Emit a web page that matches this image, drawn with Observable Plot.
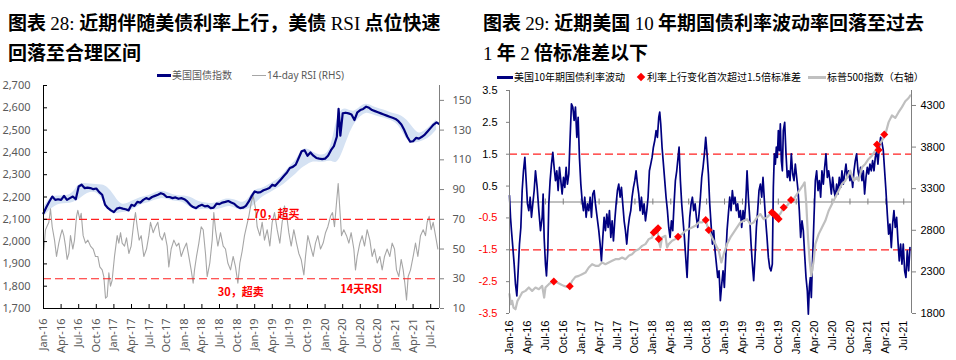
<!DOCTYPE html>
<html><head><meta charset="utf-8">
<script src="https://cdn.jsdelivr.net/npm/d3@7"></script>
<script src="https://cdn.jsdelivr.net/npm/@observablehq/plot@0.6"></script>
<style>
body{margin:0;background:#fff;}
#wrap{position:relative;width:956px;height:360px;overflow:hidden;background:#fff}
.title{position:absolute;top:8px;font-family:"Noto Sans CJK SC",sans-serif;font-weight:700;font-size:19px;line-height:28px;color:#000;white-space:nowrap;letter-spacing:0}
.title .n{font-family:"Liberation Serif",serif;font-weight:400}
.chart{position:absolute;top:66px;width:478px;height:294px}
.lg{position:absolute;white-space:nowrap;line-height:14px;height:14px}
.sw{position:absolute}
</style></head>
<body><div id="wrap">
<div class="title" style="left:8px">图表 <span class="n">28:&nbsp;</span>近期伴随美债利率上行，美债 <span class="n">RSI</span> 点位快速<br>回落至合理区间</div>
<div class="title" style="left:483px">图表 <span class="n">29:&nbsp;</span>近期美国 <span class="n">10</span> 年期国债利率波动率回落至过去<br><span class="n">1</span> 年 <span class="n">2</span> 倍标准差以下</div>
<div id="c1" class="chart" style="left:0px"></div>
<div id="c2" class="chart" style="left:478px"></div>
<div id="legends"></div>
</div>
<script>
// ---------- shared ----------
const xLabels = ["Jan-16","Apr-16","Jul-16","Oct-16","Jan-17","Apr-17","Jul-17","Oct-17","Jan-18","Apr-18","Jul-18","Oct-18","Jan-19","Apr-19","Jul-19","Oct-19","Jan-20","Apr-20","Jul-20","Oct-20","Jan-21","Apr-21","Jul-21"];
const xTicks = xLabels.map((_, i) => i * 3); // months since Jan-2016

// ---------- chart 28 data (months since Jan-2016) ----------
const idxMonths = [0,0.5,1,1.5,2,2.5,3,3.5,4,4.5,5,5.5,6,6.5,7,7.5,8,8.5,9,9.5,10,10.5,11,11.5,12,12.5,13,13.5,14,14.5,15,15.5,16,16.5,17,17.5,18,18.5,19,19.5,20,20.5,21,21.5,22,22.5,23,23.5,24,24.5,25,25.5,26,26.5,27,27.5,28,28.5,29,29.5,30,30.5,31,31.5,32,32.5,33,33.5,34,34.5,35,35.5,36,36.5,37,37.5,38,38.5,39,39.5,40,40.5,41,41.5,42,42.5,43,43.5,44,44.5,45,45.5,46,46.5,47,47.5,48,48.5,49,49.5,50,50.3,50.6,51,51.5,52,52.5,53,53.5,54,54.5,55,55.5,56,56.5,57,57.5,58,58.5,59,59.5,60,60.5,61,61.5,62,62.5,63,63.5,64,64.5,65,65.5,66,66.5,67,67.4];
const idxValues = [2127,2155,2180,2202,2187,2190,2187,2205,2187,2195,2202,2190,2247,2255,2240,2242,2240,2235,2238,2222,2210,2165,2150,2140,2132,2148,2152,2148,2145,2140,2165,2160,2178,2175,2187,2195,2190,2200,2205,2210,2217,2212,2200,2200,2195,2198,2192,2195,2190,2180,2165,2155,2150,2160,2165,2158,2160,2150,2152,2170,2168,2175,2178,2182,2175,2170,2157,2150,2152,2160,2180,2205,2225,2220,2222,2230,2235,2240,2255,2250,2265,2280,2295,2310,2330,2335,2345,2375,2405,2410,2385,2400,2385,2375,2372,2370,2372,2385,2410,2428,2470,2595,2475,2575,2578,2575,2570,2545,2580,2590,2595,2605,2600,2590,2585,2580,2575,2570,2565,2560,2555,2550,2540,2525,2500,2470,2448,2450,2465,2462,2470,2480,2495,2510,2525,2535,2528];
const bandMonths = d3.range(0, 68);
const bandLow  = [2110,2140,2160,2170,2170,2175,2185,2210,2222,2222,2195,2140,2120,2130,2130,2140,2155,2170,2175,2185,2195,2190,2182,2180,2175,2152,2140,2145,2145,2140,2145,2155,2160,2145,2140,2145,2165,2195,2210,2225,2240,2255,2280,2300,2330,2345,2360,2355,2355,2365,2345,2400,2475,2530,2560,2580,2570,2560,2555,2545,2535,2505,2450,2440,2445,2455,2470,2500];
const bandHigh = [2150,2195,2205,2205,2205,2215,2260,2262,2258,2255,2255,2245,2210,2170,2165,2180,2192,2200,2205,2218,2228,2222,2210,2205,2205,2200,2185,2175,2172,2170,2180,2192,2190,2185,2170,2192,2235,2235,2248,2265,2278,2305,2340,2358,2415,2418,2400,2388,2388,2412,2560,2600,2590,2580,2605,2620,2608,2598,2590,2580,2572,2565,2545,2510,2480,2495,2520,2545];
const rsiMonths = [0.06,0.34,0.91,1.19,1.48,1.88,2.22,2.61,2.9,3.18,3.47,3.75,4.03,4.32,4.6,5.0,5.28,5.63,5.85,6.19,6.42,6.76,7.16,7.56,8.01,8.47,8.86,9.26,9.6,10.0,10.28,10.57,10.85,11.14,11.42,11.7,12.1,12.56,12.84,13.13,13.41,13.81,14.15,14.55,14.94,15.4,15.68,15.97,16.31,16.65,17.1,17.56,17.95,18.24,18.69,19.09,19.49,19.83,20.23,20.63,21.08,21.36,21.76,22.22,22.67,23.07,23.47,23.92,24.38,24.77,25.17,25.51,25.74,26.08,26.48,26.88,27.22,27.61,27.9,28.35,28.75,29.03,29.32,29.72,30.17,30.63,31.02,31.42,31.88,32.33,32.73,33.13,33.47,33.86,34.26,34.6,35.0,35.4,35.74,36.14,36.42,36.88,37.27,37.67,38.13,38.58,38.98,39.38,39.83,40.28,40.68,41.08,41.53,41.82,42.22,42.67,43.13,43.52,43.92,44.38,44.66,45.06,45.51,45.97,46.36,46.76,47.22,47.67,48.07,48.47,48.92,49.26,49.6,49.94,50.23,50.51,50.8,51.19,51.65,52.05,52.44,52.9,53.18,53.47,53.92,54.32,54.72,55.17,55.63,56.02,56.42,56.88,57.33,57.73,58.13,58.58,59.03,59.43,59.83,60.17,60.57,60.97,61.31,61.59,61.88,62.16,62.56,63.01,63.41,63.81,64.26,64.72,65.11,65.4,65.74,66.08,66.42,66.82,67.22];
const rsiValues = [49.6,63,68,77,65,56,45,54,59,63,59,52,43,47,59,50,56,72,76,70,74,59,54,56,52,50,45,45,38,36,31.5,17,18,34,25,29,45,59,54,61,54,52,57.5,47,52,68,74.5,65,56,59,45,50,59,68,61,65,68,59,56,61,52,38,50,56,52,54,45,50,54,45,36,27,36,45,54,65,63,47,31.5,40.6,56,74.5,63,52,61,52,50,40.6,36,45,38,27,40.6,48.5,59,65,72,81,86,77,65,59,68,56,63,52,68,74.5,63,54,68,79,70,61,52,63,54,47,43,32.6,45,59,52,45,54,59,50,54,61,65,72,74.5,65,81,94,77,59,63,59,54,61,50,36,45,54,59,52,63,56,45,50,40.6,45,36,45,50,45,54,50,36,31.5,43,36,27,15.7,31.5,36,45,54,45,59,63,59,68,72,63,68,59,50];
const rsiLevels = [70, 30];
const leftTicks = [1700,1800,1900,2000,2100,2200,2300,2400,2500,2600,2700];
const rsiTicks = [10,30,50,70,90,110,130,150];
const noteLabels = ["70，超买","30，超卖","14天RSI"];
const noteMonths = [35.8, 29.7, 50.6];
const noteRsi = [73.2, 20.8, 22.8];

// ---------- chart 29 data ----------
const volMonths = [0,0.17,0.33,0.56,0.78,1,1.23,1.45,1.67,1.9,2.12,2.34,2.57,2.79,3.01,3.23,3.46,3.68,3.9,4.13,4.35,4.63,4.91,5.19,5.47,5.63,5.8,6.02,6.19,6.41,6.58,6.8,7.03,7.25,7.47,7.7,7.92,8.14,8.37,8.59,8.81,9.04,9.26,9.48,9.7,9.93,10.15,10.37,10.6,10.82,11.04,11.27,11.49,11.71,11.94,12.16,12.38,12.6,12.83,13.05,13.27,13.5,13.72,13.94,14.17,14.39,14.67,14.95,15.17,15.39,15.62,15.84,16.06,16.29,16.51,16.73,16.96,17.18,17.4,17.62,17.85,18.07,18.29,18.52,18.74,18.96,19.19,19.41,19.63,19.86,20.08,20.3,20.52,20.75,20.97,21.19,21.42,21.64,21.86,22.09,22.31,22.53,22.76,22.98,23.2,23.42,23.65,23.87,24.09,24.32,24.54,24.76,24.99,25.15,25.32,25.54,25.77,25.99,26.21,26.44,26.66,26.88,27.11,27.33,27.55,27.77,28,28.22,28.39,28.61,28.83,29.06,29.28,29.5,29.73,29.95,30.17,30.4,30.62,30.84,31.07,31.29,31.51,31.73,31.96,32.18,32.4,32.63,32.85,33.07,33.3,33.52,33.74,33.97,34.19,34.41,34.64,34.86,35.08,35.3,35.53,35.75,35.97,36.2,36.42,36.64,36.87,37.09,37.31,37.54,37.76,37.98,38.2,38.43,38.65,38.87,39.1,39.32,39.54,39.77,39.99,40.21,40.44,40.66,40.88,41.1,41.33,41.55,41.77,42,42.22,42.44,42.67,42.89,43.11,43.34,43.56,43.78,44,44.17,44.34,44.51,44.67,44.84,45.01,45.18,45.34,45.51,45.68,45.84,46.07,46.29,46.51,46.74,46.96,47.18,47.41,47.63,47.85,48.08,48.3,48.52,48.74,48.97,49.19,49.41,49.64,49.86,50.03,50.2,50.36,50.53,50.75,50.98,51.2,51.42,51.65,51.87,52.09,52.31,52.54,52.76,52.98,53.21,53.43,53.65,53.88,54.1,54.32,54.55,54.77,54.99,55.21,55.44,55.66,55.88,56.11,56.33,56.55,56.78,57,57.22,57.45,57.67,57.89,58.11,58.34,58.56,58.78,59.01,59.23,59.45,59.68,59.9,60.12,60.35,60.57,60.79,61.02,61.24,61.46,61.68,61.91,62.13,62.35,62.58,62.8,63.02,63.25,63.47,63.69,63.92,64.14,64.36,64.58,64.81,65.03,65.25,65.48,65.7,65.92,66.15,66.37,66.59,66.82,67.04];
const volValues = [0.2,-0.48,-0.9,-1.43,-1.95,-2.58,-2.95,-2.16,-1.32,-0.8,0.36,0.98,1.4,0.67,-0.06,-0.27,0.15,-0.48,-0.06,0.36,0.98,0.46,-0.27,-0.9,-0.48,0.25,-1.11,-1.95,-2.32,-1.53,-0.06,0.67,1.19,1.56,1.09,0.67,0.98,0.36,1.09,0.67,0.25,0.77,0.46,1.09,0.56,0.88,2.03,3.08,2.98,2.56,2.98,2.03,2.66,1.4,0.56,0.04,-0.27,0.15,-0.48,-0.06,-0.27,0.15,-0.48,0.25,0.36,-0.06,-0.48,-0.9,-1.32,-1.85,-1.11,-0.48,-0.9,-0.38,-0.8,-0.27,-1.11,-0.59,-1.22,-0.59,-0.06,0.36,0.56,0.15,0.46,-0.06,-0.59,-0.9,-1.32,-0.8,-0.48,-0.27,0.15,0.46,0.67,0.98,0.56,0.25,-0.27,0.15,-0.38,-0.06,-0.59,-0.27,0.15,0.98,1.19,1.4,1.72,1.93,2.24,2.03,2.66,2.82,2.45,1.72,1.19,0.67,0.15,-0.27,-0.8,-1.11,-0.59,-0.9,-0.06,0.67,0.98,1.4,1.72,0.67,-0.06,-0.59,-1.11,-1.74,-2.37,-1.32,-0.48,-0.06,0.15,-0.27,-0.06,-0.48,-0.8,-0.38,0.15,0.77,1.09,1.51,2.03,1.51,0.88,-0.06,-0.69,-1.32,-0.9,-1.53,-1.95,-2.37,-2.16,-3.1,-2.58,-2.16,-2.68,-1.74,-0.9,-0.38,0.15,-0.27,0.36,-0.06,0.15,-0.27,-0.06,-0.48,-0.27,-0.8,-0.27,-0.59,-0.06,0.98,0.15,-0.48,-1.32,-1.95,-2.47,-1.74,-0.8,-0.27,0.36,0.56,0.15,0.77,0.04,-0.59,-1.11,-1.74,-2.06,-2.16,-1.95,0.46,1.51,1.19,1.72,1.4,2.24,1.61,2.45,1.3,0.98,2.24,2.5,1.51,0.77,0.98,0.67,1.51,0.88,0.67,1.19,0.77,0.36,-0.27,-1.11,-0.59,-0.9,-1.64,-2.37,-2.79,-3.52,-2.68,-2.37,-3.0,-1.74,-0.48,0.67,0.98,0.36,0.67,0.15,0.98,0.56,1.09,1.51,0.77,0.98,0.67,0.25,0.77,0.36,0.15,0.56,0.25,0.77,0.46,0.98,0.56,0.88,1.19,0.77,0.98,0.67,0.88,0.46,0.98,1.3,1.51,0.98,0.77,1.09,0.67,0.98,0.25,0.77,1.09,0.88,1.19,0.98,1.3,0.98,1.4,1.61,1.19,1.72,2.03,1.88,1.61,0.98,0.36,-0.38,-1.01,-0.69,-1.43,-0.69,-0.27,-0.8,-0.48,-1.22,-1.85,-1.32,-1.95,-1.32,-2.16,-2.37,-1.53,-2.16,-1.43];
const spxMonths = [0,0.22,0.45,0.67,1,1.34,1.67,2.12,2.68,3.23,3.79,4.35,4.91,5.47,5.8,6.02,6.58,7.14,7.42,7.98,8.53,9.09,9.65,10.09,10.49,11.04,11.6,12.16,12.72,13.27,13.83,14.39,14.95,15.5,16.06,16.62,17.18,17.74,18.29,18.85,19.41,19.97,20.52,21.08,21.64,22.2,22.76,23.31,23.87,24.15,24.43,24.71,24.99,25.27,25.54,26.1,26.38,26.66,27.22,27.77,28.22,28.89,29.45,30.01,30.56,31.12,31.68,32.24,32.8,33.35,33.91,34.47,35.03,35.47,35.86,36.42,36.98,37.54,38.09,38.65,39.21,39.77,40.32,40.88,41.44,42,42.55,43.11,43.67,44.23,44.78,45.34,45.9,46.46,47.02,47.57,48.13,48.69,49.08,49.41,49.69,49.97,50.25,50.53,50.92,51.2,51.76,52.31,52.87,53.43,53.99,54.55,55.1,55.66,56.22,56.78,57.05,57.61,58.17,58.45,59.01,59.56,60.12,60.68,61.24,61.8,62.35,62.91,63.47,64.03,64.58,65.14,65.7,66.26,66.82,67.09];
const spxValues = [2032,1911,1952,1871,1851,1952,1992,2052,2072,2112,2072,2112,2092,2132,1992,2112,2152,2184,2184,2172,2152,2132,2120,2128,2192,2240,2252,2272,2292,2353,2393,2373,2373,2413,2393,2413,2433,2453,2453,2473,2453,2493,2513,2553,2573,2613,2634,2694,2714,2774,2794,2834,2674,2594,2714,2734,2594,2634,2674,2694,2722,2754,2794,2814,2834,2854,2894,2894,2923,2802,2714,2634,2553,2413,2513,2634,2714,2774,2834,2894,2914,2934,2874,2894,2955,2995,2934,2955,2995,3000,2960,3000,3075,3095,3150,3175,3236,3296,3336,3376,3115,2714,2433,2252,2433,2634,2754,2834,2914,3035,3115,3196,3276,3356,3396,3476,3517,3396,3436,3396,3557,3597,3657,3697,3757,3817,3878,3950,4100,4180,4150,4219,4280,4350,4390,4420];
const hitMonths = [7.42,10.09,24.15,24.6,24.87,24.99,28.22,32.85,33.35,43.95,44.34,44.67,45.06,45.9,47.13,61.52,61.8,62.74];
const hitValues = [2184,2128,2774,2802,2826,2694,2722,2923,2802,3015,2990,2967,2935,3075,3163,3830,3765,3950];
const volTicksPos = [3.5,2.5,1.5,0.5];
const volTicksNeg = [-0.5,-1.5,-2.5,-3.5];
const volBands = [1.5, -1.5];
const spxTicks = [1800,2300,2800,3300,3800,4300];

// ---------- build tables ----------
const zip = (ts, vs) => ts.map((t, i) => ({t, v: vs[i]}));
const idx = zip(idxMonths, idxValues);
const band = bandMonths.map((t, i) => ({t, lo: bandLow[i], hi: bandHigh[i]}));
const rsi = zip(rsiMonths, rsiValues);
const notes = noteLabels.map((label, i) => ({label, t: noteMonths[i], v: noteRsi[i]}));
const vol = zip(volMonths, volValues);
const spx = zip(spxMonths, spxValues);
const hits = zip(hitMonths, hitValues);

// dual-axis mappings
const rsiToL = v => 1700 + (v - 10) * (1000 / 150);
const lToRsi = y => 10 + (y - 1700) * 150 / 1000;
const spxToL = v => -3.5 + (v - 1800) / (2680 / 7);
const lToSpx = y => 1800 + (y + 3.5) * (2680 / 7);

// ---------- chart 28 ----------
const c1 = Plot.plot({
  width: 478, height: 294,
  marginTop: 19, marginBottom: 52, marginLeft: 43, marginRight: 39,
  style: {fontFamily: "'Noto Sans', sans-serif", fontSize: "11px", color: "#595959", background: "transparent", overflow: "visible"},
  x: {domain: [0, 67.5], label: null},
  y: {domain: [1700, 2700], label: null},
  marks: [
    Plot.areaY(band, {x: "t", y1: "lo", y2: "hi", fill: "#d5e2f3", curve: "basis"}),
    Plot.line(rsi, {x: "t", y: d => rsiToL(d.v), stroke: "#a6a6a6", strokeWidth: 1.1}),
    Plot.ruleY(rsiLevels, {y: d => rsiToL(d), stroke: "#ff2020", strokeWidth: 1.2, strokeDasharray: "8,4"}),
    Plot.line(idx, {x: "t", y: "v", stroke: "#000080", strokeWidth: 2.2}),
    Plot.text(notes, {x: "t", y: d => rsiToL(d.v), text: "label", fill: "#ff0000", fontWeight: "bold", fontSize: 11, fontFamily: "'Noto Sans CJK SC', sans-serif", textAnchor: "start"}),
    Plot.ruleX([0], {stroke: "#000"}),
    Plot.ruleX([67.5], {stroke: "#808080"}),
    Plot.ruleY([1700], {stroke: "#000"}),
    Plot.axisY({ticks: leftTicks, anchor: "left", label: null, tickFormat: d3.format(","), tickSize: -4, tickPadding: 17, stroke: "#000", fill: "#595959"}),
    Plot.axisY({ticks: rsiTicks.map(rsiToL), anchor: "right", label: null, tickFormat: d => String(Math.round(lToRsi(d))), tickSize: 4, tickPadding: 9, stroke: "#808080", fill: "#595959"}),
    Plot.axisX({ticks: xTicks, anchor: "bottom", label: null, tickRotate: -90, tickFormat: d => xLabels[Math.round(d / 3)], tickSize: -4, tickPadding: 14, stroke: "#000", fill: "#595959"})
  ]
});
document.getElementById("c1").append(c1);

// ---------- chart 29 ----------
const c2 = Plot.plot({
  width: 478, height: 294,
  marginTop: 24, marginBottom: 47, marginLeft: 31, marginRight: 45,
  style: {fontFamily: "'Liberation Sans', Arial, sans-serif", fontSize: "11px", color: "#000", background: "transparent", overflow: "visible"},
  x: {domain: [0, 67.3], label: null},
  y: {domain: [-3.5, 3.5], label: null},
  marks: [
    Plot.ruleY(volBands, {stroke: "#ff2020", strokeWidth: 1.2, strokeDasharray: "8,4"}),
    Plot.ruleY([0], {stroke: "#808080"}),
    Plot.ruleX(xTicks, {x: d => d, y1: 0, y2: 0, insetTop: -3, insetBottom: -3, stroke: "#808080"}),
    Plot.line(vol, {x: "t", y: "v", stroke: "#000080", strokeWidth: 1.7}),
    Plot.line(spx, {x: "t", y: d => spxToL(d.v), stroke: "#bfbfbf", strokeWidth: 2.2}),
    Plot.dot(hits, {x: "t", y: d => spxToL(d.v), symbol: "diamond2", r: 3.6, fill: "#ff0000", stroke: "none"}),
    Plot.ruleX([0], {stroke: "#808080"}),
    Plot.ruleX([67.3], {stroke: "#808080"}),
    Plot.axisY({ticks: volTicksPos, anchor: "left", label: null, tickFormat: d => String(d), tickSize: 3, tickPadding: 9, stroke: "#808080", fill: "#000"}),
    Plot.axisY({ticks: volTicksNeg, anchor: "left", label: null, tickFormat: d => String(d), tickSize: 3, tickPadding: 9, stroke: "#808080", fill: "#ff0000"}),
    Plot.axisY({ticks: spxTicks.map(spxToL), anchor: "right", label: null, tickFormat: d => String(Math.round(lToSpx(d))), tickSize: 4, tickPadding: 5, stroke: "#808080", fill: "#000"}),
    Plot.axisX({ticks: xTicks, anchor: "bottom", label: null, tickRotate: -90, tickFormat: d => xLabels[Math.round(d / 3)], tickSize: 0, tickPadding: 7, fill: "#000"})
  ]
});
document.getElementById("c2").append(c2);

// ---------- legends ----------
const legendItems = [
  {kind: "line", x: 157, y: 75, w: 14, h: 3, color: "#000080"},
  {kind: "text", x: 172, y: 75, text: "美国国债指数", font: "10px 'Noto Sans CJK SC'", color: "#595959"},
  {kind: "line", x: 252, y: 75, w: 14, h: 1, color: "#a6a6a6"},
  {kind: "text", x: 267, y: 75, text: "14-day RSI (RHS)", font: "10px 'Noto Sans'", color: "#595959"},
  {kind: "line", x: 497, y: 77, w: 16, h: 3, color: "#000080"},
  {kind: "text", x: 514, y: 77, text: "美国10年期国债利率波动", font: "10px 'Noto Sans CJK SC'", color: "#000"},
  {kind: "diamond", x: 641, y: 77, color: "#ff0000"},
  {kind: "text", x: 647, y: 77, text: "利率上行变化首次超过1.5倍标准差", font: "10px 'Noto Sans CJK SC'", color: "#000"},
  {kind: "line", x: 808, y: 77, w: 18, h: 3, color: "#c0c0c0"},
  {kind: "text", x: 827, y: 77, text: "标普500指数（右轴）", font: "10px 'Noto Sans CJK SC'", color: "#000"}
];
const lg = document.getElementById("legends");
for (const it of legendItems) {
  const el = document.createElement("div");
  if (it.kind === "text") {
    el.className = "lg";
    el.textContent = it.text;
    el.style.cssText = `left:${it.x}px;top:${it.y - 7}px;font:${it.font};line-height:14px;color:${it.color}`;
  } else if (it.kind === "line") {
    el.className = "sw";
    el.style.cssText = `left:${it.x}px;top:${it.y - it.h / 2}px;width:${it.w}px;height:${it.h}px;background:${it.color}`;
  } else {
    el.className = "sw";
    el.style.cssText = `left:${it.x - 3}px;top:${it.y - 3}px;width:6px;height:6px;background:${it.color};transform:rotate(45deg)`;
  }
  lg.append(el);
}
</script>
</body></html>
